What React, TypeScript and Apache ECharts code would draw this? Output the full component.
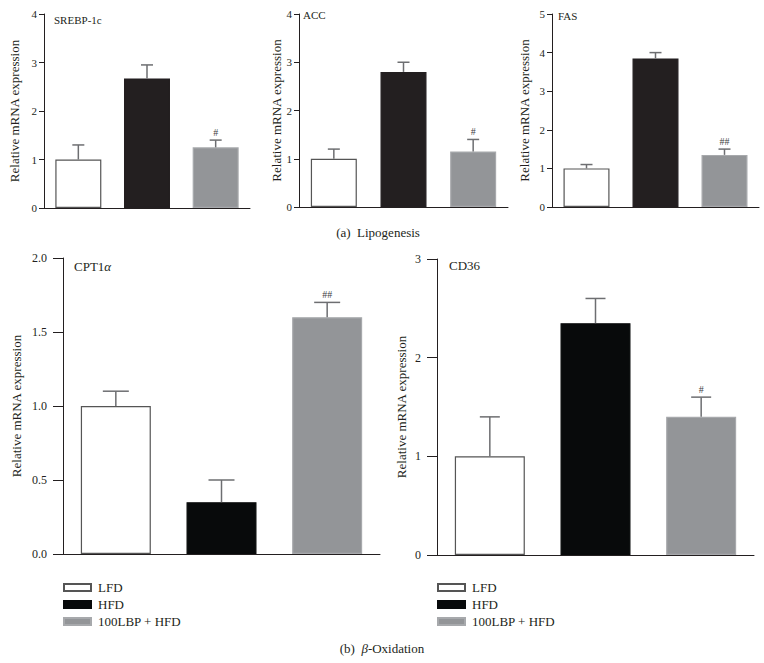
import React, { useEffect, useRef } from "react";
import * as echarts from "echarts";

const groups = ["LFD", "HFD", "100LBP + HFD"];

const srebpMean = [1.0, 2.67, 1.25];
const srebpSem = [0.3, 0.28, 0.15];
const srebpMarks = ["", "", "#"];

const accMean = [1.0, 2.8, 1.15];
const accSem = [0.2, 0.2, 0.25];
const accMarks = ["", "", "#"];

const fasMean = [1.0, 3.85, 1.35];
const fasSem = [0.1, 0.15, 0.15];
const fasMarks = ["", "", "##"];

const cptMean = [1.0, 0.35, 1.6];
const cptSem = [0.1, 0.15, 0.1];
const cptMarks = ["", "", "##"];

const cd36Mean = [1.0, 2.35, 1.4];
const cd36Sem = [0.4, 0.25, 0.2];
const cd36Marks = ["", "", "#"];

const FONT = "Liberation Serif";
const TXT = "#231f20";

export default function App() {
  const ref = useRef<HTMLDivElement>(null);
  useEffect(() => {
    if (!ref.current) return;
    const chart = echarts.init(ref.current, undefined, { renderer: "svg" });

    const panels = [
      { mean: cptMean, sem: cptSem, marks: cptMarks, max: 2, interval: 0.5, dec: 1, grid: { left: 63, top: 258, width: 317, height: 296 }, barW: 70, cap: 26, nameGap: 40, tick: 12, tickLen: 10, margin: 16, black: "#080a0b" },
      { mean: cd36Mean, sem: cd36Sem, marks: cd36Marks, max: 3, interval: 1, dec: 0, grid: { left: 437, top: 259, width: 317, height: 296 }, barW: 70, cap: 20, nameGap: 29, tick: 12, tickLen: 10, margin: 16, black: "#080a0b" },
      { mean: srebpMean, sem: srebpSem, marks: srebpMarks, max: 4, interval: 1, dec: 0, grid: { left: 44, top: 14, width: 206, height: 194 }, barW: 46, cap: 12, nameGap: 23, tick: 11, tickLen: 5, margin: 7, black: "#231f20" },
      { mean: accMean, sem: accSem, marks: accMarks, max: 4, interval: 1, dec: 0, grid: { left: 299, top: 14, width: 209, height: 193 }, barW: 46, cap: 12, nameGap: 16, tick: 11, tickLen: 5, margin: 7, black: "#231f20" },
      { mean: fasMean, sem: fasSem, marks: fasMarks, max: 5, interval: 1, dec: 0, grid: { left: 552, top: 14, width: 207, height: 193 }, barW: 46, cap: 12, nameGap: 21, tick: 11, tickLen: 5, margin: 7, black: "#231f20" },
    ];

    const grid: any[] = [];
    const xAxis: any[] = [];
    const yAxis: any[] = [];
    const series: any[] = [];

    panels.forEach((p, gi) => {
      grid.push({ ...p.grid, containLabel: false });
      xAxis.push({
        type: "category",
        gridIndex: gi,
        data: groups,
        axisLine: { show: true, lineStyle: { color: TXT, width: 1 } },
        axisTick: { show: false },
        axisLabel: { show: false },
      });
      yAxis.push({
        type: "value",
        gridIndex: gi,
        min: 0,
        max: p.max,
        interval: p.interval,
        name: "Relative mRNA expression",
        nameLocation: "middle",
        nameGap: p.nameGap,
        nameRotate: 90,
        nameTextStyle: { fontFamily: FONT, fontSize: 13, color: TXT },
        axisLine: { show: true, lineStyle: { color: TXT, width: 1 } },
        axisTick: { show: true, length: p.tickLen, lineStyle: { color: TXT } },
        axisLabel: {
          fontFamily: FONT,
          fontSize: p.tick,
          color: TXT,
          margin: p.margin,
          formatter: (v: number) => v.toFixed(p.dec),
        },
        splitLine: { show: false },
      });
      const colors = ["#ffffff", p.black, "#939598"];
      const borders = ["#555555", p.black, "#a7a9ac"];
      groups.forEach((g, k) => {
        series.push({
          type: "bar",
          name: g,
          xAxisIndex: gi,
          yAxisIndex: gi,
          barWidth: p.barW,
          barGap: "-100%",
          data: p.mean.map((v, j) => (j === k ? v : "-")),
          itemStyle: { color: colors[k], borderColor: borders[k], borderWidth: 1.2 },
          emphasis: { disabled: true },
          z: 2,
        });
      });
      const marks = p.marks;
      const cap = p.cap;
      series.push({
        type: "custom",
        name: "err" + gi,
        xAxisIndex: gi,
        yAxisIndex: gi,
        z: 5,
        encode: { x: 0, y: [1, 2] },
        data: p.mean.map((v, j) => [j, v, v + p.sem[j]]),
        renderItem: (params: any, api: any) => {
          const i = params.dataIndex;
          const b = api.coord([api.value(0), api.value(1)]);
          const t = api.coord([api.value(0), api.value(2)]);
          const st = { stroke: "#6d6e71", lineWidth: 1.5 };
          const children: any[] = [
            { type: "line", shape: { x1: b[0], y1: b[1], x2: t[0], y2: t[1] }, style: st },
            { type: "line", shape: { x1: t[0] - cap / 2, y1: t[1], x2: t[0] + cap / 2, y2: t[1] }, style: st },
          ];
          if (marks[i]) {
            children.push({
              type: "text",
              x: t[0],
              y: t[1] - 3,
              style: {
                text: marks[i],
                textAlign: "center",
                textVerticalAlign: "bottom",
                fontFamily: FONT,
                fontSize: 10,
                fill: "#414042",
              },
            });
          }
          return { type: "group", children };
        },
      });
    });

    const legendBase = {
      orient: "vertical",
      top: 581,
      itemWidth: 27,
      itemHeight: 7,
      itemGap: 4,
      icon: "rect",
      selectedMode: false,
      data: groups,
      textStyle: { fontFamily: FONT, fontSize: 13, color: TXT, padding: [0, 0, 0, 2] },
      padding: 0,
    };

    const label = (text: string, x: number, y: number, size: number, rich?: any) => ({
      type: "text",
      x,
      y,
      style: {
        text,
        fontFamily: FONT,
        fontSize: size,
        fill: TXT,
        textVerticalAlign: "middle",
        rich,
      },
    });
    const caption = (text: string, x: number, y: number, rich?: any) => ({
      type: "text",
      x,
      y,
      style: {
        text,
        fontFamily: FONT,
        fontSize: 13,
        fill: TXT,
        textAlign: "center",
        textVerticalAlign: "middle",
        rich,
      },
    });
    const italic = { i: { fontStyle: "italic", fontFamily: FONT, fontSize: 13, fill: TXT } };

    chart.setOption({
      animation: false,
      backgroundColor: "#ffffff",
      textStyle: { fontFamily: FONT },
      grid,
      xAxis,
      yAxis,
      series,
      legend: [
        { ...legendBase, left: 63 },
        { ...legendBase, left: 437 },
      ],
      graphic: [
        label("SREBP-1c", 54, 20, 11),
        label("ACC", 303, 15, 11),
        label("FAS", 558, 16, 11),
        label("CPT1{i|α}", 74, 266, 13, italic),
        label("CD36", 449, 265, 13),
        caption("(a)  Lipogenesis", 378, 232),
        caption("(b)  {i|β}-Oxidation", 382, 648, italic),
      ],
    });
    return () => chart.dispose();
  }, []);
  return (
    <div
      ref={ref}
      style={{ position: "fixed", left: 0, top: 0, width: 764, height: 663, background: "#fff" }}
    />
  );
}
